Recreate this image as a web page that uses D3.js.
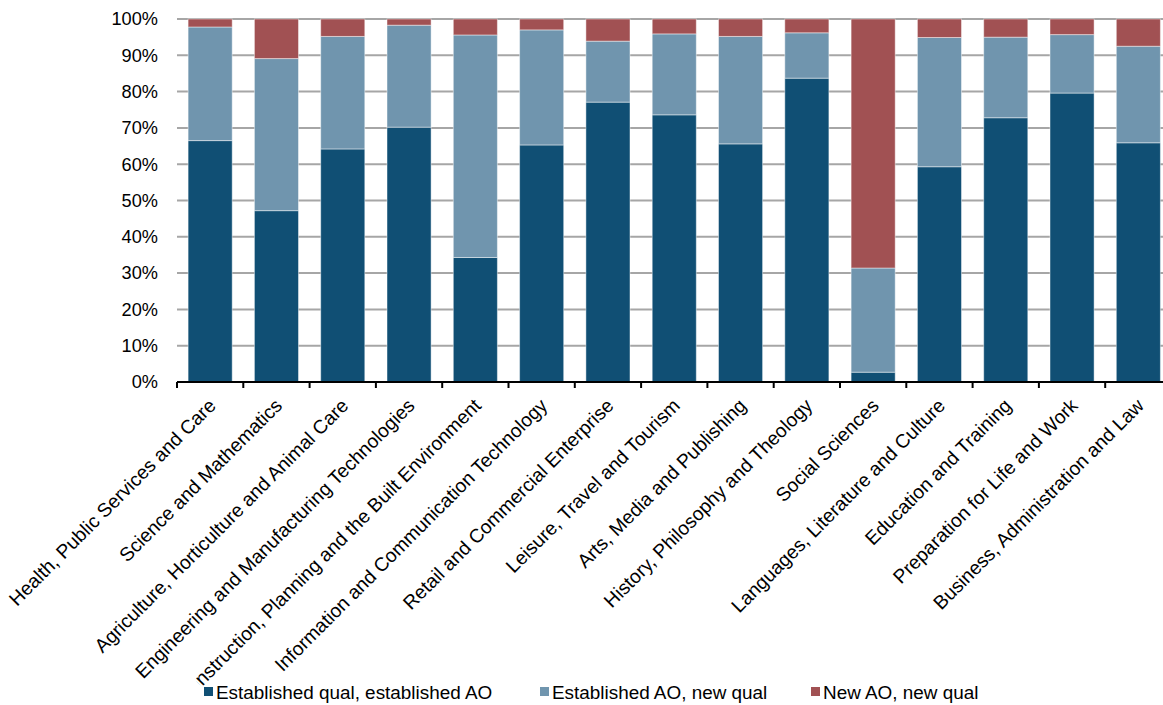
<!DOCTYPE html>
<html>
<head>
<meta charset="utf-8">
<script src="https://cdn.jsdelivr.net/npm/d3@7"></script>
<style>
  html, body { margin: 0; padding: 0; background: #ffffff; }
  svg { display: block; font-family: "Liberation Sans", Arial, sans-serif; }
</style>
</head>
<body>
<svg id="chart" width="1163" height="705"></svg>
<script>
// Subject areas along the x axis
const categories = [
  "Health, Public Services and Care",
  "Science and Mathematics",
  "Agriculture, Horticulture and Animal Care",
  "Engineering and Manufacturing Technologies",
  "Construction, Planning and the Built Environment",
  "Information and Communication Technology",
  "Retail and Commercial Enterprise",
  "Leisure, Travel and Tourism",
  "Arts, Media and Publishing",
  "History, Philosophy and Theology",
  "Social Sciences",
  "Languages, Literature and Culture",
  "Education and Training",
  "Preparation for Life and Work",
  "Business, Administration and Law"
];

// Share of each subject area (%), one array per series
const establishedQualEstablishedAO = [66.5, 47.2, 64.2, 70.2, 34.3, 65.3, 77.1, 73.6, 65.6, 83.7, 2.7, 59.3, 72.8, 79.6, 65.9];
const establishedAONewQual        = [31.3, 41.9, 31.0, 28.1, 61.3, 31.7, 16.8, 22.3, 29.6, 12.5, 28.7, 35.6, 22.2, 16.1, 26.6];
const newAONewQual                = [ 2.2, 10.9,  4.8,  1.7,  4.4,  3.0,  6.1,  4.1,  4.8,  3.8, 68.6,  5.1,  5.0,  4.3,  7.5];

const seriesNames = ["Established qual, established AO", "Established AO, new qual", "New AO, new qual"];
const seriesColors = ["#104f74", "#7095ae", "#a15153"];

const yTicks = [0, 10, 20, 30, 40, 50, 60, 70, 80, 90, 100];

// Build rows for the stack layout
const rows = categories.map((c, i) => ({
  category: c,
  [seriesNames[0]]: establishedQualEstablishedAO[i],
  [seriesNames[1]]: establishedAONewQual[i],
  [seriesNames[2]]: newAONewQual[i]
}));

const svg = d3.select("#chart");
const defs = svg.append("defs");
const plotLeft = 177, plotTop = 19, plotBottom = 382;
const band = 66.3;

const x = d3.scaleBand()
  .domain(categories)
  .range([plotLeft, plotLeft + band * categories.length])
  .paddingInner(0.335)
  .paddingOuter(0.1675);

const y = d3.scaleLinear().domain([0, 100]).range([plotBottom, plotTop]);

// Horizontal gridlines
svg.append("g")
  .selectAll("line")
  .data(yTicks.filter(t => t > 0))
  .join("line")
  .attr("x1", plotLeft)
  .attr("x2", 1163)
  .attr("y1", d => y(d))
  .attr("y2", d => y(d))
  .attr("stroke", "#a6a6a6")
  .attr("stroke-width", 2);

// Y-axis labels
svg.append("g")
  .selectAll("text")
  .data(yTicks)
  .join("text")
  .attr("x", 158)
  .attr("y", d => y(d))
  .attr("dy", "0.35em")
  .attr("text-anchor", "end")
  .attr("font-size", 18.2)
  .attr("fill", "#000")
  .text(d => d + "%");

// Stacked bars
const stack = d3.stack().keys(seriesNames);
const layers = stack(rows);

svg.append("g")
  .selectAll("g")
  .data(layers)
  .join("g")
  .attr("fill", (d, i) => seriesColors[i])
  .selectAll("rect")
  .data(d => d)
  .join("rect")
  .attr("x", d => x(d.data.category))
  .attr("width", x.bandwidth())
  .attr("y", d => y(d[1]))
  .attr("height", d => y(d[0]) - y(d[1]))
  .attr("stroke", "rgba(255,255,255,0.45)")
  .attr("stroke-width", 1);

// Bottom axis with ticks between bands
const xAxis = svg.append("g");
xAxis.append("line")
  .attr("x1", plotLeft)
  .attr("x2", 1163)
  .attr("y1", plotBottom)
  .attr("y2", plotBottom)
  .attr("stroke", "#000")
  .attr("stroke-width", 2);

const boundaries = categories.map(c => x(c) - x.step() * x.paddingInner() / 2).concat([x.range()[1]]);
xAxis.selectAll("line.tick")
  .data(boundaries)
  .join("line")
  .attr("class", "tick")
  .attr("x1", d => d)
  .attr("x2", d => d)
  .attr("y1", plotBottom)
  .attr("y2", plotBottom + 6)
  .attr("stroke", "#000")
  .attr("stroke-width", 2);

// Rotated category labels; labels longer than the label area lose their leading characters
const maxLabelLength = 400;
const labels = xAxis.selectAll("text")
  .data(categories)
  .join("text")
  .attr("transform", d => `translate(${x(d) + x.bandwidth() / 2 - 3},${plotBottom + 15}) rotate(-45)`)
  .attr("text-anchor", "end")
  .attr("dy", "0.72em")
  .attr("font-size", 19.3)
  .attr("fill", "#000")
  .text(d => d);

labels.each(function (d, i) {
  const full = this.getComputedTextLength();
  if (full <= maxLabelLength) return;
  const n = d.length;
  let k = 0;
  while (k < n && this.getSubStringLength(k, n - k) > maxLabelLength) k++;
  const kept = this.getSubStringLength(k, n - k);
  const id = "label-clip-" + i;
  defs.append("clipPath")
    .attr("id", id)
    .append("rect")
    .attr("x", -kept - 0.5)
    .attr("y", -40)
    .attr("width", kept + 40)
    .attr("height", 80);
  d3.select(this).attr("clip-path", `url(#${id})`);
});

// Legend
const legendX = [204, 540, 811];
const legend = svg.append("g")
  .selectAll("g")
  .data(seriesNames)
  .join("g")
  .attr("transform", (d, i) => `translate(${legendX[i]},692)`);

legend.append("rect")
  .attr("x", 0)
  .attr("y", -5)
  .attr("width", 9)
  .attr("height", 9)
  .attr("fill", (d, i) => seriesColors[i]);

legend.append("text")
  .attr("x", 12)
  .attr("y", 0)
  .attr("dy", "0.35em")
  .attr("font-size", 18.9)
  .attr("fill", "#000")
  .text(d => d);
</script>
</body>
</html>
